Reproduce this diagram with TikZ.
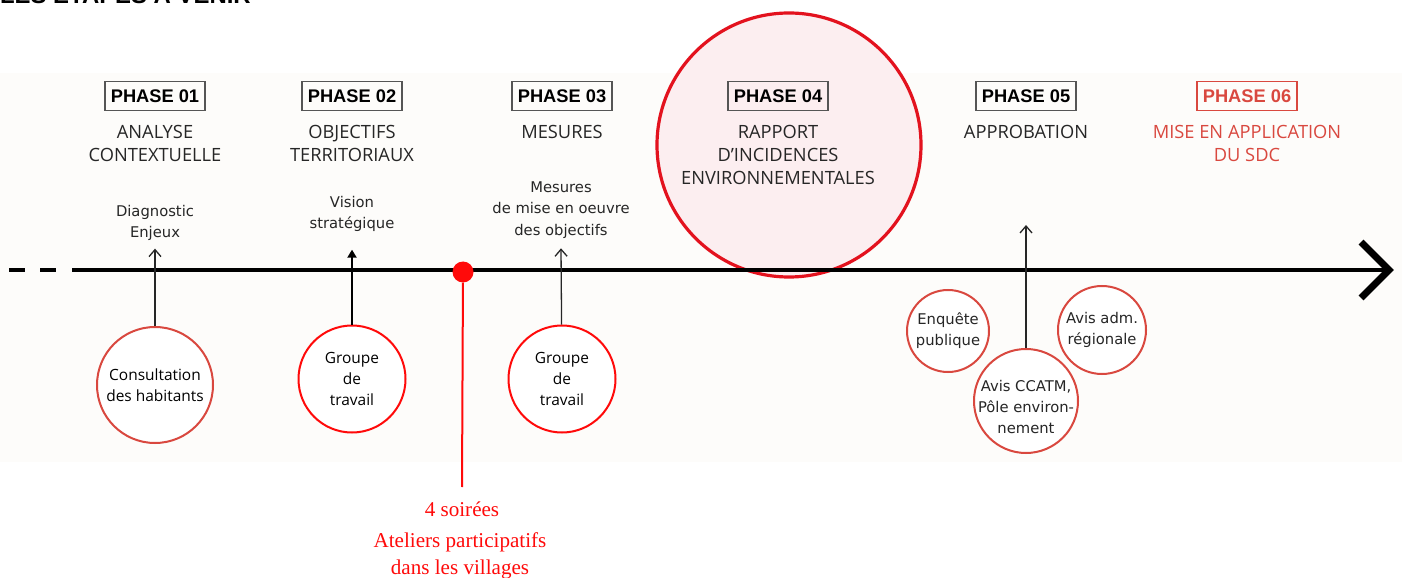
\documentclass[tikz,border=0pt]{standalone}
\usepackage{fontspec}
\setmainfont{Liberation Serif}
\setsansfont{Open Sans}
\newfontfamily\boxfont{Liberation Sans}
\newfontfamily\notefont{DejaVu Sans}
\usepackage{tikz}
\usetikzlibrary{positioning}
\usetikzlibrary{arrows.meta}
\definecolor{ink}{HTML}{262626}
\definecolor{framegray}{HTML}{555555}
\definecolor{panel}{HTML}{FDFCFA}
\definecolor{sdcred}{HTML}{E3121E}
\definecolor{softred}{HTML}{D9483F}
\definecolor{brightred}{HTML}{FF0A0A}
\definecolor{blush}{HTML}{FCEEF0}
\tikzset{
    x=0.5mm, y=-0.5mm, % one unit = one pixel of the original
    phasebox/.style={ % boxed phase number
        draw=framegray, line width=0.7mm, inner sep=0pt,
        minimum width=50mm, minimum height=14.5mm,
        text height=19pt, text depth=0pt, text=black,
        font=\boxfont\bfseries\fontsize{26}{30}\selectfont
    },
    phasetitle/.style={ % name of the phase under its box
        inner sep=0pt, align=center, text=ink,
        font=\sffamily\fontsize{26}{33}\selectfont
    },
    phasenote/.style={
        inner sep=0pt, align=center, anchor=north, text=ink,
        font=\notefont\fontsize{21}{30}\selectfont
    },
    meeting/.style={ % circles below the time line
        circle, draw=#1, line width=1mm, fill=white, inner sep=0pt
    },
    meettext/.style={
        align=center, inner sep=0pt, text=black,
        font=\sffamily\fontsize{22}{30}\selectfont
    },
    avistext/.style={
        align=center, inner sep=0pt, text=ink,
        font=\notefont\fontsize{21}{30}\selectfont
    },
    uparrow/.style={
        draw=ink, line width=0.65mm, -{Straight Barb[length=3.5mm,width=6mm]}
    },
    uparrowbold/.style={
        draw=black, line width=1mm, -{Triangle[length=4mm,width=4.5mm]}
    },
    redtext/.style={
        inner sep=0pt, align=center, anchor=north, text=brightred,
        font=\fontsize{30}{38}\selectfont
    }
}

\begin{document}
\begin{tikzpicture}
    \useasboundingbox (0,0) rectangle (1402,578);
    \fill[panel] (0,73) rectangle (1402,462);
    \node[anchor=base west, inner sep=0pt, font=\boxfont\bfseries\fontsize{34}{40}\selectfont] (heading) at (0,4) {LES ETAPES A VENIR};

    % current phase
    \node[circle, draw=sdcred, fill=blush, line width=1.6mm, minimum size=132mm, inner sep=0pt] (current) at (789,145) {};

    % time line
    \coordinate (dashstart) at (9,270);
    \coordinate (dashend) at (57,270);
    \coordinate (tlstart) at (72,270);
    \coordinate (tlend) at (1389,270);
    \draw[line width=2mm, dash pattern=on 8mm off 7.5mm] (dashstart) -- (dashend);
    \draw[line width=2mm] (tlstart) -- (tlend);
    \draw[line width=3.5mm, miter limit=4] ([xshift=-14mm,yshift=14mm]tlend) -- (tlend) -- ([xshift=-14mm,yshift=-14mm]tlend);

    % phases
    \node[phasebox] (p1) at (155,96) {PHASE 01};
    \node[phasebox] (p2) at (352,96) {PHASE 02};
    \node[phasebox] (p3) at (562,96) {PHASE 03};
    \node[phasebox] (p4) at (778,96) {PHASE 04};
    \node[phasebox] (p5) at (1026,96) {PHASE 05};
    \node[phasebox, draw=softred, text=softred] (p6) at (1247,96) {PHASE 06};

    \node[phasetitle, below=7mm of p1] (n1) {ANALYSE\\CONTEXTUELLE};
    \node[phasetitle, below=7mm of p2] (n2) {OBJECTIFS\\TERRITORIAUX};
    \node[phasetitle, below=7mm of p3] (n3) {MESURES};
    \node[phasetitle, below=7mm of p4] (n4) {RAPPORT\\D’INCIDENCES\\ENVIRONNEMENTALES};
    \node[phasetitle, below=7mm of p5] (n5) {APPROBATION};
    \node[phasetitle, below=7mm of p6, text=softred] (n6) {MISE EN APPLICATION\\DU SDC};

    \node[phasenote] (d1) at (155,205) {Diagnostic\\Enjeux};
    \node[phasenote] (d2) at (352,196) {Vision\\stratégique};
    \node[phasenote] (d3) at (561,182) {Mesures\\de mise en oeuvre\\des objectifs};

    % participation
    \node[meeting=softred, minimum size=58mm, label={[meettext]center:{Consultation\\des habitants}}] (c1) at (155,385) {};
    \node[meeting=brightred, minimum size=53.5mm, label={[meettext]center:{Groupe\\de\\travail}}] (c2) at (352,379) {};
    \node[meeting=brightred, minimum size=53.5mm, label={[meettext]center:{Groupe\\de\\travail}}] (c3) at (562,379) {};
    \node[meeting=softred, minimum size=52mm, label={[avistext, yshift=-3mm]center:{Avis CCATM,\\Pôle environ-\\nement}}] (e2) at (1026,401) {};
    \node[meeting=softred, minimum size=41mm, label={[avistext]center:{Enquête\\publique}}] (e1) at (948,331) {};
    \node[meeting=softred, minimum size=44mm, label={[avistext]center:{Avis adm.\\régionale}}] (e3) at (1102,330) {};
    \coordinate (a5) at (1026,225);

    \draw[uparrow] (c1) -- ([yshift=-4mm]d1.south);
    \draw[uparrowbold] (c2) -- ([yshift=-9mm]d2.south);
    \draw[uparrow] (c3) -- ([yshift=-5mm]d3.south);
    \draw[uparrow] (e2) -- (a5);

    % workshops
    \node[circle, fill=brightred, minimum size=10.5mm, inner sep=0pt] (dot) at (463,272) {};
    \node[redtext] (soirees) at (462,502) {4 soirées};
    \node[redtext] (ateliers) at (460,533) {Ateliers participatifs\\dans les villages};
    \draw[brightred, line width=1mm] (dot) -- ([yshift=7.5mm]soirees.north);
\end{tikzpicture}
\end{document}
